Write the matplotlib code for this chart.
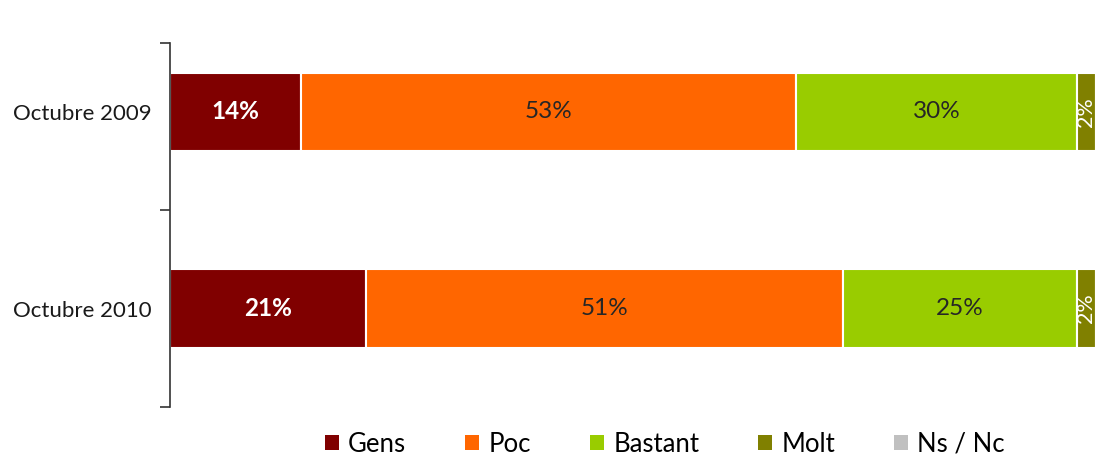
import matplotlib
matplotlib.use("Agg")
import matplotlib.pyplot as plt
import numpy as np

categories = ["Octubre 2009", "Octubre 2010"]
series_names = ["Gens", "Poc", "Bastant", "Molt", "Ns / Nc"]
gens = [14, 21]
poc = [53, 51]
bastant = [30, 25]
molt = [2, 2]
nsnc = [1, 1]
colors = ["#800000", "#FF6600", "#99CC00", "#808000", "#C0C0C0"]

plt.rcParams['font.family'] = ['Lato', 'DejaVu Sans']

fig = plt.figure(figsize=(10.96, 4.55), dpi=100)
ax = fig.add_axes([170/1096, 1-407/455, 935/1096, 364/455])

y = np.arange(len(categories))
left = np.zeros(len(categories))
data = [gens, poc, bastant, molt, nsnc]
for name, vals, col in zip(series_names, data, colors):
    vals = np.array(vals, dtype=float)
    ax.barh(y, vals, left=left, height=0.4, color=col, edgecolor="white",
            linewidth=1.5, label=name)
    for yi, (l, v) in enumerate(zip(left, vals)):
        cx = l + v / 2
        if name == "Gens":
            ax.text(cx, yi, f"{int(v)}%", ha="center", va="center", color="white",
                    fontsize=17.5, fontweight="bold")
        elif name in ("Poc", "Bastant"):
            ax.text(cx, yi, f"{int(v)}%", ha="center", va="center", color="#262626",
                    fontsize=17.5)
        elif name == "Molt":
            ax.text(cx - 0.05, yi, f"{int(v)}%", ha="center", va="center", color="white",
                    fontsize=15.5, rotation=90)
    left += vals

ax.set_xlim(0, 100)
ax.set_ylim(1.5, -0.35)
ax.set_yticks(y)
ax.set_yticklabels(categories, fontsize=16, color="#1a1a1a")
ax.tick_params(axis="y", length=0, pad=13)
ax.set_yticks([-0.35, 0.5, 1.5], minor=True)
ax.tick_params(axis="y", which="minor", length=7, width=1.2, color="#333333")
ax.set_xticks([])
for s in ["top", "right", "bottom"]:
    ax.spines[s].set_visible(False)
ax.spines["left"].set_color("#333333")
ax.spines["left"].set_linewidth(1.2)

handles, labels = ax.get_legend_handles_labels()
leg = fig.legend(handles, labels, loc="center", bbox_to_anchor=(665/1096, 1-444/455),
                 ncol=5, frameon=False, fontsize=18.5, handlelength=0.55, handleheight=0.55,
                 handletextpad=0.35, columnspacing=2.3, borderaxespad=0)
for h in leg.legend_handles:
    h.set_edgecolor("none")

fig.savefig("out.png", dpi=100)
